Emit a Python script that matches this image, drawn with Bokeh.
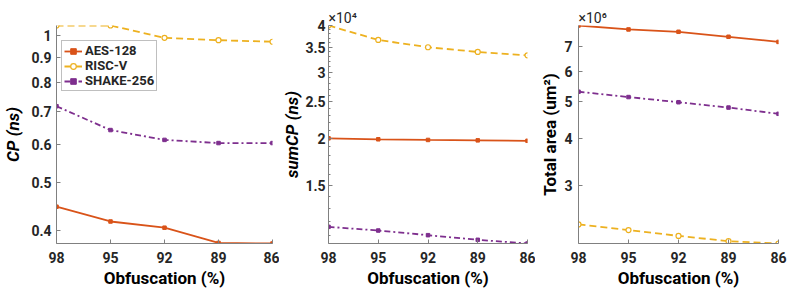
from bokeh.plotting import figure
from bokeh.layouts import row
from bokeh.models import (Range1d, FixedTicker, CustomJSTickFormatter, Legend,
                          LegendItem, Title)
from bokeh.embed import file_html
from bokeh.resources import INLINE

obfuscation = [98, 95, 92, 89, 86]
series_names = ["AES-128", "RISC-V", "SHAKE-256"]

cp_aes = [0.447, 0.417, 0.405, 0.377, 0.376]
cp_risc = [1.048, 1.048, 0.989, 0.978, 0.971]
cp_shake = [0.717, 0.641, 0.612, 0.603, 0.603]

sumcp_aes = [20000, 19880, 19800, 19750, 19700]
sumcp_risc = [40000, 36600, 35000, 34000, 33300]
sumcp_shake = [11610, 11350, 11030, 10720, 10480]

area_aes = [7.96e6, 7.77e6, 7.66e6, 7.43e6, 7.20e6]
area_risc = [2.36e6, 2.28e6, 2.20e6, 2.13e6, 2.10e6]
area_shake = [5.31e6, 5.14e6, 4.98e6, 4.82e6, 4.64e6]

cp_ticks = [0.4, 0.5, 0.6, 0.7, 0.8, 0.9, 1.0]
sumcp_ticks = [15000, 20000, 25000, 30000, 35000, 40000]
sumcp_minor = [11000, 12000, 13000, 14000, 16000, 17000, 18000, 19000,
               21000, 22000, 23000, 24000, 26000, 27000, 28000, 29000,
               31000, 32000, 33000, 34000, 36000, 37000, 38000, 39000]
area_ticks = [3e6, 4e6, 5e6, 6e6, 7e6]

colors = ["#D95319", "#EDB120", "#7E2F8E"]
dashes = ["solid", "7 4", "6 3 2 3"]
FONT = "Roboto"
TXT = "#262626"
AX = "#808080"

H = 290
TOP = 25
BOT = 45


def make_fig(width, left, right, ys, ylabel, ticks, fmt, minor=None,
             label_style="italic", exponent=None, tick_standoff=5, label_standoff=2):
    allv = [v for s in ys for v in s]
    p = figure(width=width, height=H, y_axis_type="log",
               x_range=Range1d(obfuscation[0], obfuscation[-1]),
               y_range=Range1d(min(allv), max(allv)),
               output_backend="svg", toolbar_location=None,
               min_border_left=left, min_border_right=right,
               min_border_top=TOP, min_border_bottom=BOT)
    p.outline_line_color = None
    p.grid.visible = False
    if exponent:
        t = Title(text=exponent, align="left", text_font=FONT,
                  text_font_size="14px", text_font_style="normal",
                  text_color=TXT, offset=0, standoff=0)
        p.add_layout(t, "above")
    p.xaxis.ticker = FixedTicker(ticks=obfuscation)
    p.yaxis.ticker = FixedTicker(ticks=ticks, minor_ticks=minor or [])
    p.yaxis.formatter = CustomJSTickFormatter(code=fmt)
    for ax in (p.xaxis[0], p.yaxis[0]):
        ax.axis_line_color = AX
        ax.major_tick_line_color = AX
        ax.minor_tick_line_color = AX
        ax.major_tick_in = 4
        ax.major_tick_out = 0
        ax.minor_tick_in = 2
        ax.minor_tick_out = 0
        ax.major_label_text_font = FONT
        ax.major_label_text_font_style = "bold"
        ax.major_label_text_font_size = "14px"
        ax.major_label_text_color = TXT
        ax.axis_label_text_font = FONT
        ax.axis_label_text_font_size = "17px"
        ax.axis_label_text_color = "#000000"
    p.xaxis.axis_label = "Obfuscation (%)"
    p.xaxis.axis_label_text_font_style = "bold"
    p.xaxis.major_label_standoff = 8
    p.xaxis.axis_label_standoff = 2
    p.yaxis.axis_label = ylabel
    p.yaxis.axis_label_text_font_style = label_style
    p.yaxis.major_label_standoff = tick_standoff
    p.yaxis.axis_label_standoff = label_standoff
    rends = []
    for i, s in enumerate(ys):
        ln = p.line(obfuscation, s, line_color=colors[i], line_width=1.8,
                    line_dash=dashes[i])
        if i == 1:
            mk = p.scatter(obfuscation, s, marker="circle", size=5,
                           line_color=colors[i], fill_color="white", line_width=1.2)
        else:
            mk = p.scatter(obfuscation, s, marker="square", size=3.5,
                           line_color=colors[i], fill_color=colors[i])
        rends.append([ln, mk])
    return p, rends


p1, r1 = make_fig(279, 55, 7, [cp_aes, cp_risc, cp_shake], "CP (ns)", cp_ticks,
                  "return String(Math.round(tick*10)/10);",
                  label_style="bold italic", label_standoff=5)
legend = Legend(items=[LegendItem(label=series_names[i], renderers=r1[i]) for i in range(3)],
                location=(5, 152))
legend.label_text_font = FONT
legend.label_text_font_style = "bold"
legend.label_text_font_size = "13px"
legend.label_text_color = TXT
legend.label_height = 14
legend.glyph_height = 14
legend.glyph_width = 18
legend.label_standoff = 3
legend.spacing = 0
legend.padding = 2
legend.margin = 0
legend.border_line_color = AX
legend.background_fill_alpha = 1.0
p1.add_layout(legend)

p2, _ = make_fig(256, 44, 8, [sumcp_aes, sumcp_risc, sumcp_shake], "sumCP (ns)",
                 sumcp_ticks, "return String(tick/10000);", minor=sumcp_minor,
                 label_style="bold italic", exponent="×10⁴",
                 tick_standoff=3, label_standoff=0)

p3, _ = make_fig(252, 43, 9, [area_aes, area_risc, area_shake], "Total area (um²)",
                 area_ticks, "return String(Math.round(tick/1e6));",
                 label_style="bold", exponent="×10⁶", tick_standoff=6,
                 label_standoff=1)

layout = row(p1, p2, p3)
open("out.html", "w").write(file_html(layout, INLINE))
